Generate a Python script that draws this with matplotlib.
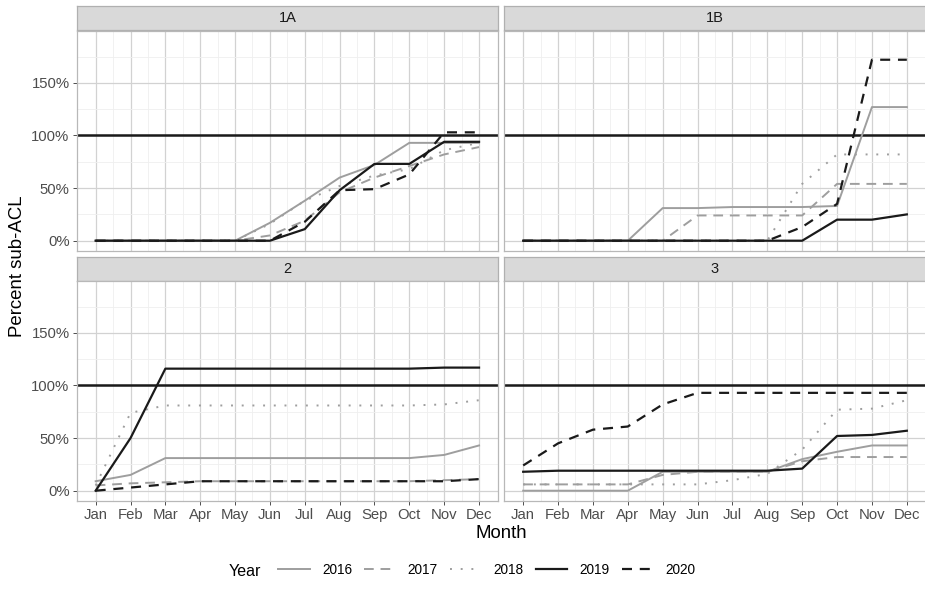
import numpy as np
import matplotlib.pyplot as plt
from matplotlib.lines import Line2D
from matplotlib.ticker import MultipleLocator, FuncFormatter

plt.rcParams['font.family'] = ['Liberation Sans', 'DejaVu Sans']

months = ['Jan', 'Feb', 'Mar', 'Apr', 'May', 'Jun', 'Jul', 'Aug', 'Sep', 'Oct', 'Nov', 'Dec']
years = ['2016', '2017', '2018', '2019', '2020']
areas = ['1A', '1B', '2', '3']

# cumulative percent of sub-ACL caught, by area and year
a1a_2016 = [0, 0, 0, 0, 0, 17, 38, 60, 72, 93, 93, 93]
a1a_2017 = [0, 0, 0, 0, 0, 5, 19, 46, 60, 71, 82, 89]
a1a_2018 = [0, 0, 0, 0, 0, 16, 38, 52, 62, 68, 86, 93]
a1a_2019 = [0, 0, 0, 0, 0, 0, 11, 48, 73, 73, 94, 94]
a1a_2020 = [0, 0, 0, 0, 0, 0, 18, 48, 49, 63, 103, 103]

a1b_2016 = [0, 0, 0, 0, 31, 31, 32, 32, 32, 33, 127, 127]
a1b_2017 = [0, 0, 0, 0, 0, 24, 24, 24, 24, 54, 54, 54]
a1b_2018 = [0, 0, 0, 0, 0, 0, 0, 0, 54, 82, 82, 82]
a1b_2019 = [0, 0, 0, 0, 0, 0, 0, 0, 0, 20, 20, 25]
a1b_2020 = [0, 0, 0, 0, 0, 0, 0, 0, 13, 35, 172, 172]

a2_2016 = [9, 15, 31, 31, 31, 31, 31, 31, 31, 31, 34, 43]
a2_2017 = [5, 7, 8, 9, 9, 9, 9, 9, 9, 9, 10, 11]
a2_2018 = [5, 74, 81, 81, 81, 81, 81, 81, 81, 81, 82, 86]
a2_2019 = [0, 50, 116, 116, 116, 116, 116, 116, 116, 116, 117, 117]
a2_2020 = [0, 3, 6, 9, 9, 9, 9, 9, 9, 9, 9, 11]

a3_2016 = [0, 0, 0, 0, 18, 18, 18, 18, 30, 37, 43, 43]
a3_2017 = [6, 6, 6, 6, 15, 18, 18, 18, 28, 32, 32, 32]
a3_2018 = [6, 6, 6, 6, 6, 6, 10, 16, 39, 77, 78, 86]
a3_2019 = [18, 19, 19, 19, 19, 19, 19, 19, 21, 52, 53, 57]
a3_2020 = [24, 45, 58, 61, 82, 93, 93, 93, 93, 93, 93, 93]

target = 100

data = {
    '1A': [a1a_2016, a1a_2017, a1a_2018, a1a_2019, a1a_2020],
    '1B': [a1b_2016, a1b_2017, a1b_2018, a1b_2019, a1b_2020],
    '2': [a2_2016, a2_2017, a2_2018, a2_2019, a2_2020],
    '3': [a3_2016, a3_2017, a3_2018, a3_2019, a3_2020],
}

grey = '#9e9e9e'
black = '#1a1a1a'
styles = [
    dict(color=grey, ls='-', lw=1.4),
    dict(color=grey, ls=(0, (5, 3.5)), lw=1.4),
    dict(color=grey, ls=(0, (1, 4.5)), lw=1.4),
    dict(color=black, ls='-', lw=1.6),
    dict(color=black, ls=(0, (4.5, 3.5)), lw=1.6),
]

W, H = 925, 589
fig = plt.figure(figsize=(W / 100, H / 100), dpi=100)


def box(x0, y0, x1, y1):
    # pixel box (top-left origin) -> figure fraction rect
    return [x0 / W, 1 - y1 / H, (x1 - x0) / W, (y1 - y0) / H]


cols = [(76.5, 498.2), (504, 926)]
rows = [(6, 30, 30.8, 250.7), (257, 280.7, 280.8, 500.7)]

x = np.arange(1, 13)
for i, area in enumerate(areas):
    r, c = divmod(i, 2)
    x0, x1 = cols[c]
    s0, s1, p0, p1 = rows[r]

    strip = fig.add_axes(box(x0, s0, x1, s1))
    strip.set_facecolor('#d9d9d9')
    strip.set_xticks([])
    strip.set_yticks([])
    for sp in strip.spines.values():
        sp.set_color('#b0b0b0')
        sp.set_linewidth(0.9)
    strip.text(0.5, 0.5, area, ha='center', va='center', fontsize=10.5,
               color='#1a1a1a', transform=strip.transAxes)

    ax = fig.add_axes(box(x0, p0, x1, p1))
    ax.set_xlim(1 - 0.55, 12 + 0.55)
    ax.set_ylim(-9.5, 199.5)
    ax.yaxis.set_minor_locator(MultipleLocator(25))
    ax.set_yticks([0, 50, 100, 150])
    ax.set_xticks(x)
    ax.set_xticks(np.arange(1.5, 12, 1), minor=True)
    ax.grid(which='major', color='#d2d2d2', lw=0.9)
    ax.grid(which='minor', color='#efefef', lw=0.6)
    ax.set_axisbelow(True)
    for sp in ax.spines.values():
        sp.set_color('#b8b8b8')
        sp.set_linewidth(0.9)

    ax.axhline(target, color=black, lw=1.8, zorder=2)
    for vals, st in zip(data[area], styles):
        ax.plot(x, vals, zorder=3, **st)

    ax.tick_params(which='minor', length=0)
    ax.tick_params(which='major', length=2.75, width=0.7, color='#4d4d4d',
                   labelcolor='#4d4d4d', labelsize=10.7, pad=2.2)
    if c == 0:
        ax.yaxis.set_major_formatter(FuncFormatter(lambda v, p: f'{v:.0f}%'))
    else:
        ax.tick_params(axis='y', length=0, labelleft=False)
    if r == 1:
        ax.set_xticklabels(months)
    else:
        ax.tick_params(axis='x', length=0, labelbottom=False)

fig.text(501 / W, 1 - 533 / H, 'Month', ha='center', va='center', fontsize=13.4)
fig.text(18 / W, 1 - 266 / H, 'Percent sub-ACL', ha='center', va='center',
         rotation=90, fontsize=13.4)

# legend along the bottom
fig.text(229 / W, 1 - 571 / H, 'Year', ha='left', va='center', fontsize=11.5)
handles = [Line2D([], [], **st) for st in styles]
fig.legend(handles, years, loc='center', bbox_to_anchor=(487 / W, 1 - 570 / H),
           ncol=5, frameon=False, fontsize=9.8, handlelength=2.3,
           handletextpad=0.9, columnspacing=0.9, borderpad=0)

fig.savefig('out.png', dpi=100)
